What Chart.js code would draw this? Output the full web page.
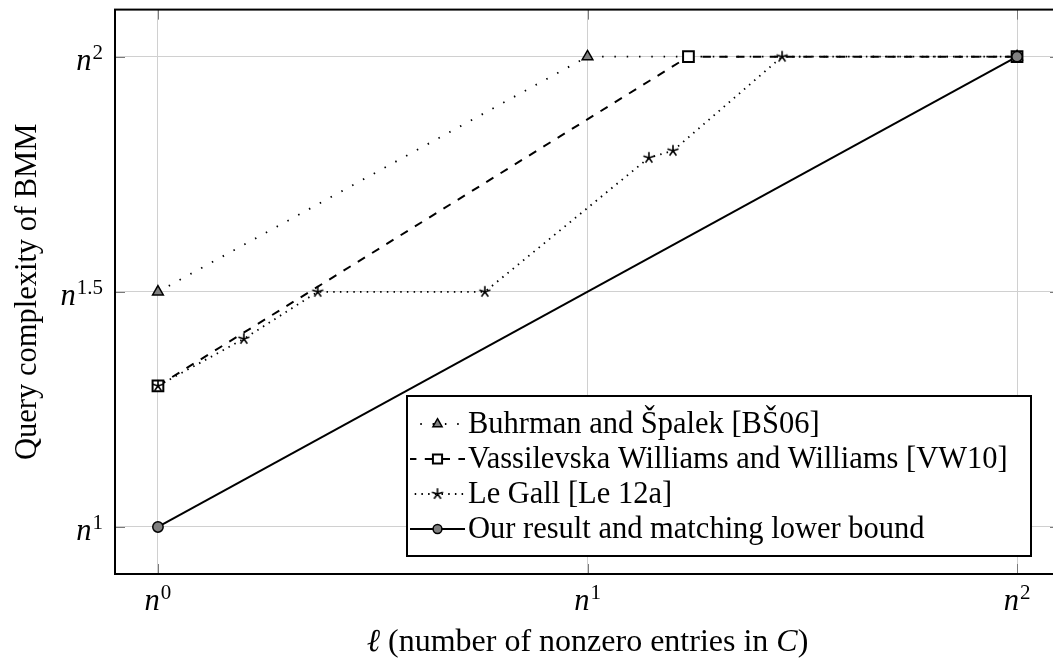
<!DOCTYPE html>
<html><head><meta charset="utf-8">
<script src="https://cdn.jsdelivr.net/npm/chart.js@4.4.0/dist/chart.umd.min.js"></script>
<style>html,body{margin:0;padding:0;overflow:hidden;background:#fff;width:1053px;height:658px}
#wrap{position:absolute;left:0;top:0;width:1080px;height:658px}</style></head>
<body><div id="wrap"><canvas id="c" width="1080" height="658"></canvas></div>
<script>
// ---- data ----
const xTickValues = [0, 1, 2];
const xTickExponents = ['0', '1', '2'];
const yTickValues = [1, 1.5, 2];
const yTickExponents = ['1', '1.5', '2'];
const seriesLabels = [
  'Buhrman and Špalek [BŠ06]',
  'Vassilevska Williams and Williams [VW10]',
  'Le Gall [Le 12a]',
  'Our result and matching lower bound'
];
const bsX = [0, 1, 2];
const bsY = [1.5, 2, 2];
const vwX = [0, 1.235, 2];
const vwY = [1.3, 2, 2];
const lgX = [0, 0.2, 0.372, 0.761, 1.143, 1.199, 1.453, 2];
const lgY = [1.3, 1.4, 1.5, 1.5, 1.785, 1.8, 2, 2];
const ourX = [0, 2];
const ourY = [1, 2];
const xTitleParts = [['ℓ', 'italic'], [' (number of nonzero entries in ', 'normal'], ['C', 'italic'], [')', 'normal']];
const yTitle = 'Query complexity of BMM';

// ---- style ----
const FONT = '"Liberation Serif", "Times New Roman", serif';
const FS = 30.5, SUP = 21, TFS = 32;
const GRAY = '#808080';
const pts = (xs, ys) => xs.map((x, i) => ({x, y: ys[i]}));

function makeStar(r, lw) {
  const s = Math.ceil(2 * r + lw + 2);
  const c = document.createElement('canvas');
  c.width = s; c.height = s;
  const g = c.getContext('2d');
  g.strokeStyle = '#000'; g.lineWidth = lw;
  g.beginPath();
  for (let i = 0; i < 5; i++) {
    const a = -Math.PI / 2 + i * 2 * Math.PI / 5;
    g.moveTo(s / 2, s / 2);
    g.lineTo(s / 2 + r * Math.cos(a), s / 2 + r * Math.sin(a));
  }
  g.stroke();
  return c;
}
const starImg = makeStar(5.8, 1.6);

const legendBox = {x: 407, y: 396, w: 624, h: 160, firstBaseline: 433, rowStep: 35, sampleX0: 410, sampleX1: 465, textX: 468};

const framePlugin = {
  id: 'framePlugin',
  beforeDatasetsDraw(chart) {
    const {ctx, chartArea: a, scales} = chart;
    ctx.save();
    ctx.strokeStyle = '#7a7a7a'; ctx.lineWidth = 1;
    ctx.beginPath();
    xTickValues.forEach(v => {
      const px = Math.round(scales.x.getPixelForValue(v)) + 0.5;
      ctx.moveTo(px, a.bottom); ctx.lineTo(px, a.bottom - 10);
      ctx.moveTo(px, a.top); ctx.lineTo(px, a.top + 10);
    });
    yTickValues.forEach(v => {
      const py = Math.round(scales.y.getPixelForValue(v)) + 0.5;
      ctx.moveTo(a.left, py); ctx.lineTo(a.left + 10, py);
      ctx.moveTo(a.right, py); ctx.lineTo(a.right - 10, py);
    });
    ctx.stroke();
    ctx.restore();
  },
  afterDraw(chart) {
    const {ctx, chartArea: a, scales} = chart;
    ctx.save();
    ctx.strokeStyle = '#000'; ctx.lineWidth = 2;
    ctx.strokeRect(a.left, a.top, a.right - a.left, a.bottom - a.top);
    ctx.fillStyle = '#000';
    ctx.textBaseline = 'alphabetic'; ctx.textAlign = 'left';
    xTickValues.forEach((v, i) => {
      const px = scales.x.getPixelForValue(v);
      ctx.font = 'italic ' + FS + 'px ' + FONT;
      const nW = ctx.measureText('n').width;
      ctx.font = SUP + 'px ' + FONT;
      const eW = ctx.measureText(xTickExponents[i]).width;
      const start = px - (nW + 1 + eW) / 2;
      ctx.font = 'italic ' + FS + 'px ' + FONT;
      ctx.fillText('n', start, a.bottom + 36);
      ctx.font = SUP + 'px ' + FONT;
      ctx.fillText(xTickExponents[i], start + nW + 1, a.bottom + 25);
    });
    yTickValues.forEach((v, i) => {
      const py = scales.y.getPixelForValue(v);
      ctx.font = SUP + 'px ' + FONT;
      const eW = ctx.measureText(yTickExponents[i]).width;
      ctx.font = 'italic ' + FS + 'px ' + FONT;
      const nW = ctx.measureText('n').width;
      const right = a.left - 12;
      ctx.fillText('n', right - eW - 1 - nW, py + 13);
      ctx.font = SUP + 'px ' + FONT;
      ctx.fillText(yTickExponents[i], right - eW, py + 2);
    });
    let total = 0;
    xTitleParts.forEach(([t, st]) => { ctx.font = (st === 'italic' ? 'italic ' : '') + TFS + 'px ' + FONT; total += ctx.measureText(t).width; });
    let xx = (scales.x.getPixelForValue(xTickValues[0]) + scales.x.getPixelForValue(xTickValues[xTickValues.length - 1])) / 2 - total / 2;
    xTitleParts.forEach(([t, st]) => {
      ctx.font = (st === 'italic' ? 'italic ' : '') + TFS + 'px ' + FONT;
      ctx.fillText(t, xx, a.bottom + 77);
      xx += ctx.measureText(t).width;
    });
    ctx.save();
    ctx.translate(36, (a.top + a.bottom) / 2);
    ctx.rotate(-Math.PI / 2);
    ctx.font = FS + 'px ' + FONT;
    ctx.textAlign = 'center';
    ctx.fillText(yTitle, 0, 0);
    ctx.restore();
    const L = legendBox;
    ctx.fillStyle = '#fff';
    ctx.fillRect(L.x, L.y, L.w, L.h);
    ctx.strokeStyle = '#000'; ctx.lineWidth = 2;
    ctx.strokeRect(L.x, L.y, L.w, L.h);
    chart.data.datasets.forEach((ds, i) => {
      const base = L.firstBaseline + i * L.rowStep;
      const cy = base - 9;
      ctx.save();
      ctx.strokeStyle = ds.borderColor; ctx.lineWidth = ds.borderWidth;
      ctx.setLineDash(ds.borderDash || []);
      ctx.lineDashOffset = 2;
      ctx.beginPath(); ctx.moveTo(L.sampleX0, cy); ctx.lineTo(L.sampleX1, cy); ctx.stroke();
      ctx.setLineDash([]);
      ctx.fillStyle = ds.pointBackgroundColor; ctx.strokeStyle = ds.pointBorderColor; ctx.lineWidth = ds.pointBorderWidth;
      Chart.helpers.drawPoint(ctx, {pointStyle: ds.pointStyle, rotation: 0, radius: ds.pointRadius * 0.85, borderWidth: ds.pointBorderWidth}, (L.sampleX0 + L.sampleX1) / 2, cy);
      ctx.restore();
      ctx.fillStyle = '#000';
      ctx.font = FS + 'px ' + FONT;
      ctx.fillText(ds.label, L.textX, base);
    });
    ctx.restore();
  }
};

const gridCommon = {color: '#d0d0d0', lineWidth: 1, drawTicks: false};
new Chart(document.getElementById('c'), {
  type: 'scatter',
  data: {
    datasets: [
      {label: seriesLabels[0], data: pts(bsX, bsY), showLine: true, borderColor: '#000', borderWidth: 1.8, borderDash: [1.5, 10.8],
       pointStyle: 'triangle', pointRadius: 6.2, pointBackgroundColor: GRAY, pointBorderColor: '#000', pointBorderWidth: 1.5, order: 4},
      {label: seriesLabels[1], data: pts(vwX, vwY), showLine: true, borderColor: '#000', borderWidth: 2, borderDash: [8.4, 8.4],
       pointStyle: 'rect', pointRadius: 7.6, pointBackgroundColor: '#fff', pointBorderColor: '#000', pointBorderWidth: 2, order: 3},
      {label: seriesLabels[2], data: pts(lgX, lgY), showLine: true, borderColor: '#000', borderWidth: 1.8, borderDash: [1.5, 5.2],
       pointStyle: starImg, pointRadius: 6, pointBackgroundColor: '#000', pointBorderColor: '#000', pointBorderWidth: 1.6, order: 2},
      {label: seriesLabels[3], data: pts(ourX, ourY), showLine: true, borderColor: '#000', borderWidth: 2, borderDash: [],
       pointStyle: 'circle', pointRadius: 5.2, pointBackgroundColor: GRAY, pointBorderColor: '#000', pointBorderWidth: 1.5, order: 1}
    ]
  },
  options: {
    responsive: false, animation: false,
    layout: {padding: {left: 115, top: 7, right: 20, bottom: 84}},
    plugins: {legend: {display: false}, tooltip: {enabled: false}},
    elements: {line: {tension: 0}},
    scales: {
      x: {type: 'linear', min: -0.1, max: 2.1, afterBuildTicks: ax => { ax.ticks = xTickValues.map(v => ({value: v})); },
          ticks: {display: false}, grid: gridCommon, border: {display: false}, title: {display: false}},
      y: {type: 'linear', min: 0.9, max: 2.1, afterBuildTicks: ax => { ax.ticks = yTickValues.map(v => ({value: v})); },
          ticks: {display: false}, grid: gridCommon, border: {display: false}, title: {display: false}}
    }
  },
  plugins: [framePlugin]
});
</script></body></html>
